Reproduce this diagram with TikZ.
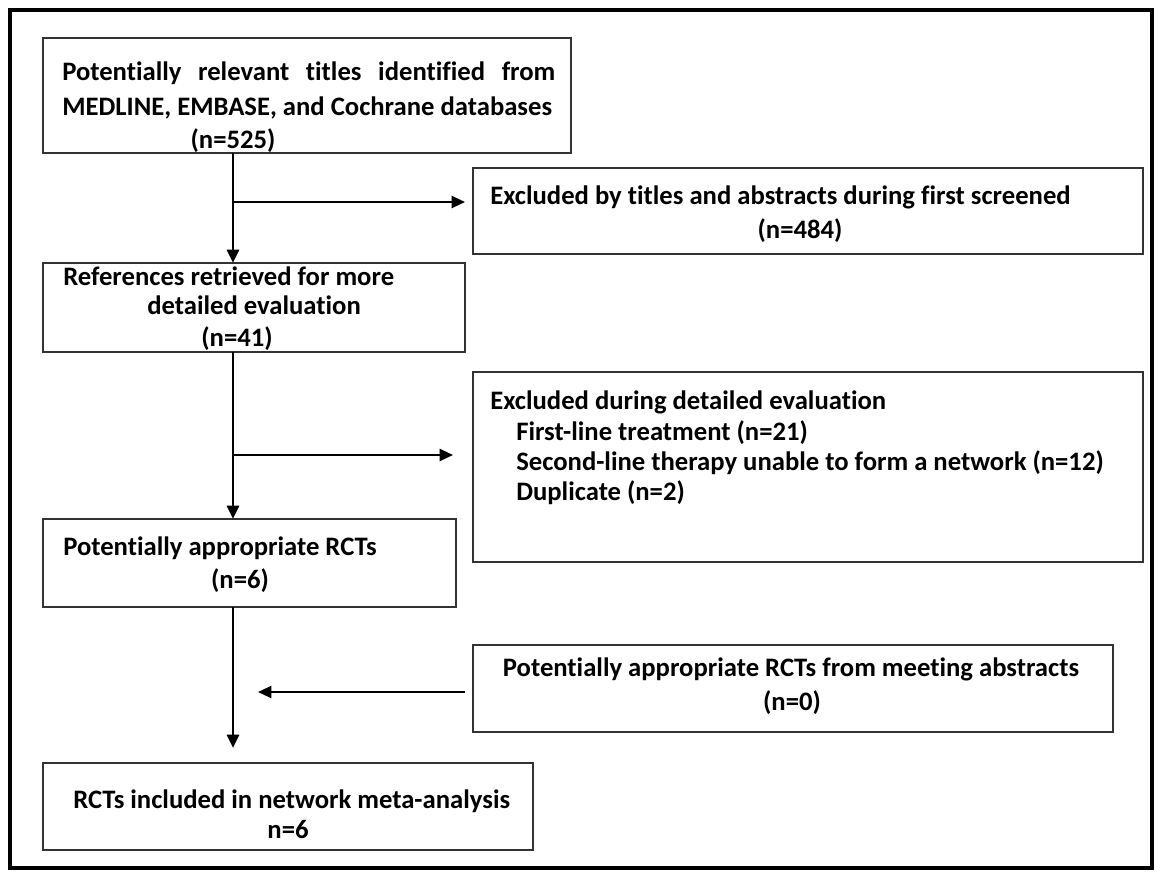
\documentclass[tikz,border=0pt]{standalone}
\usepackage{fontspec}
\setmainfont{Carlito}[Ligatures=NoCommon]
\usetikzlibrary{arrows.meta}
\begin{document}
\begin{tikzpicture}[x=0.75pt,y=-0.75pt,
  box/.style={draw=black!80, line width=1.5pt, fill=white, anchor=north west, outer sep=0pt, inner sep=0pt},
  txt/.style={font=\bfseries\fontsize{20}{24}\selectfont, inner sep=0pt, anchor=base},
  txtl/.style={txt, anchor=base west},
  flow/.style={line width=2.2pt, -{Triangle[length=10pt,width=9pt]}},
  side/.style={line width=1.6pt, -{Triangle[length=10pt,width=9pt]}}]
\useasboundingbox (0,0) rectangle (1155,871);
\draw[line width=3pt] (10,10) rectangle (1152,868);
% boxes
\node[box, minimum width=528*0.75pt, minimum height=115*0.75pt] (b1) at (43,38) {};
\node[box, minimum width=670*0.75pt, minimum height=86*0.75pt] (b2) at (473,168) {};
\node[box, minimum width=422*0.75pt, minimum height=89*0.75pt] (b3) at (43,263) {};
\node[box, minimum width=670*0.75pt, minimum height=190*0.75pt] (b4) at (473,372) {};
\node[box, minimum width=413*0.75pt, minimum height=88*0.75pt] (b5) at (43,519) {};
\node[box, minimum width=640*0.75pt, minimum height=87*0.75pt] (b6) at (473,645) {};
\node[box, minimum width=490*0.75pt, minimum height=87*0.75pt] (b7) at (43,763) {};
% texts
\node[txtl] (t1a) at (62,80) {\makebox[369.75pt][s]{Potentially relevant titles identified from}};
\node[txtl] (t1b) at (62,115) {MEDLINE, EMBASE, and Cochrane databases};
\node[txt] (t1c) at (233,148) {(n=525)};
\node[txtl] (t2a) at (490,204) {Excluded by titles and abstracts during first screened};
\node[txt] (t2b) at (800,238) {(n=484)};
\node[txtl] (t3a) at (63,285) {References retrieved for more};
\node[txt] (t3b) at (254,314) {detailed evaluation};
\node[txt] (t3c) at (237,346) {(n=41)};
\node[txtl] (t4a) at (490,409) {Excluded during detailed evaluation};
\node[txtl] (t4b) at (516,440) {First-line treatment (n=21)};
\node[txtl] (t4c) at (516,470) {Second-line therapy unable to form a network (n=12)};
\node[txtl] (t4d) at (516,500) {Duplicate (n=2)};
\node[txtl] (t5a) at (63,555) {Potentially appropriate RCTs};
\node[txt] (t5b) at (240,588) {(n=6)};
\node[txt] (t6a) at (791,676) {Potentially appropriate RCTs from meeting abstracts};
\node[txt] (t6b) at (792,710) {(n=0)};
\node[txtl] (t7a) at (73,808) {RCTs included in network meta-analysis};
\node[txt] (t7b) at (288,838) {n=6};
% connector points
\coordinate (j1) at (233,202);
\coordinate (j2) at (233,455);
\coordinate (e2) at (453,455);
\coordinate (e3) at (258,692);
\coordinate (s3) at (473,692);
\coordinate (end) at (233,748);
\draw[flow] (b1.south -| j1) -- (b3.north -| j1);
\draw[flow] (b3.south -| j1) -- (b5.north -| j1);
\draw[flow] (b5.south -| j1) -- (end);
\draw[side, shorten >=6pt] (j1) -- (j1 -| b2.west);
\draw[side] (j2) -- (e2);
\draw[side, shorten <=6pt] (s3) -- (e3);
\end{tikzpicture}
\end{document}
